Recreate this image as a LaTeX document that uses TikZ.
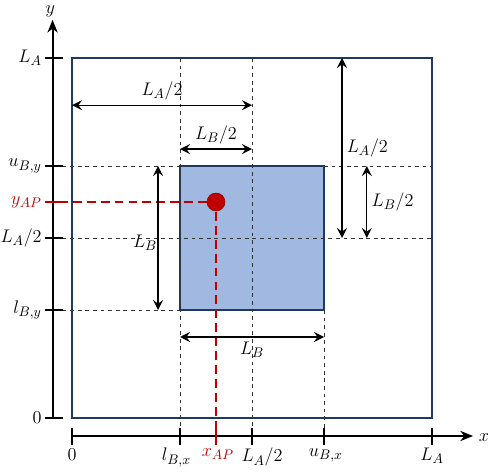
\documentclass[tikz,border=0pt]{standalone}
\usepackage{tikz}
\usetikzlibrary{arrows.meta}
\definecolor{boxline}{RGB}{31,56,100}
\definecolor{boxfill}{RGB}{161,185,224}
\definecolor{apred}{RGB}{192,0,0}
\tikzset{
  dim/.style={{Stealth[length=8pt,width=8pt,inset=3pt]}-{Stealth[length=8pt,width=8pt,inset=3pt]}, line width=1pt},
  guide/.style={dashed, line width=0.5pt, black!80},
  apguide/.style={dash pattern=on 7pt off 4pt, line width=1pt, apred},
  axis/.style={line width=1.6pt},
  ylabel/.style={anchor=east, inner sep=0.5pt},
  xlabel/.style={anchor=north, inner sep=1pt}
}
\begin{document}
\begin{tikzpicture}[font=\fontsize{15}{17}\selectfont]
            \useasboundingbox (-2,-1.5) rectangle (11.611,11.611);
            % regions
            \draw[boxline, line width=1.4pt] (0,0) rectangle (10,10);
            \draw[boxline, fill=boxfill, line width=1.2pt] (3,3) rectangle (7,7);
            % guide lines
            \draw[guide] (3,10) -- (3,-0.5);
            \draw[guide] (5,10) -- (5,-0.5);
            \draw[guide] (7,3) -- (7,-0.5);
            \draw[guide] (-0.26,7) -- (3,7);
            \draw[guide] (7,7) -- (10,7);
            \draw[guide] (-0.26,5) -- (10,5);
            \draw[guide] (-0.26,3) -- (3,3);
            % axes
            \draw[axis, -{Stealth[length=10pt,width=8pt,inset=3pt]}] (-0.54,0) -- (-0.54,11.06);
            \draw[axis, -{Stealth[length=10pt,width=8pt,inset=3pt]}] (0,-0.5) -- (11.14,-0.5);
            \node[anchor=north, inner sep=0pt] (ylab) at (-0.6,11.47) {$y$};
            \node (xlab) at (11.44,-0.53) {$x$};
            \foreach\v/\t in {10/{L_A}, 7/{u_{B,y}}, 5/{L_A/2}, 3/{l_{B,y}}, 0/{0}}{
              \draw[axis] (-0.75,\v) -- (-0.26,\v);
              \node[ylabel] (Y\v) at (-0.82,\v) {$\t$};
            }
            \foreach\v/\x/\t in {0/0/{0}, 3/2.9/{l_{B,x}}, 5/5.28/{L_A/2}, 7/7.05/{u_{B,x}}, 10/10/{L_A}}{
              \draw[axis] (\v,-0.28) -- (\v,-0.75);
              \node[xlabel] (X\v) at (\x,-0.8) {$\t$};
            }
            % access point
            \draw[axis, apred] (-0.75,6) -- (-0.26,6);
            \draw[axis, apred] (4,-0.28) -- (4,-0.75);
            \node[ylabel, text=apred] (Yap) at (-0.82,6) {$y_{AP}$};
            \node[xlabel, text=apred] (Xap) at (4.05,-0.8) {$x_{AP}$};
            \draw[apguide] (-0.75,6) -- (4,6) -- (4,-0.5);
            \node[circle, draw=apred!70!black, fill=apred, minimum size=0.5cm, inner sep=0pt] (AP) at (4,6) {};
            % dimensions
            \draw[dim] (0,8.69) -- node[above] {$L_A/2$} (5,8.69);
            \draw[dim] (3,7.47) -- node[above] {$L_B/2$} (5,7.47);
            \draw[dim] (7.5,10) -- node[right] {$L_A/2$} (7.5,5);
            \draw[dim] (8.19,7) -- node[right] {$L_B/2$} (8.19,5);
            \draw[dim] (2.39,7) -- (2.39,3);
            \node (LBv) at (2.03,4.86) {$L_B$};
            \draw[dim] (3,2.25) -- node[below] {$L_B$} (7,2.25);
          \end{tikzpicture}
\end{document}
